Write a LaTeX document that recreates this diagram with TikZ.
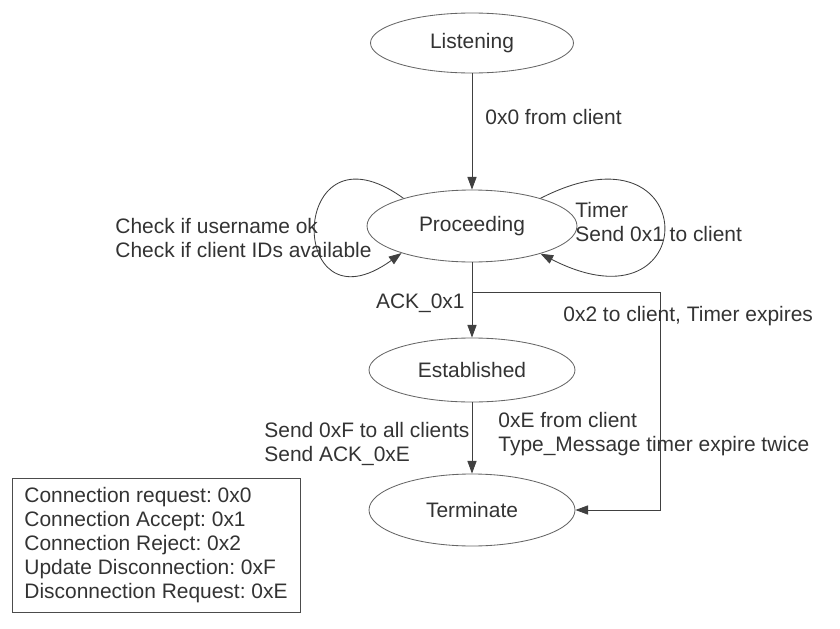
\documentclass[tikz,border=0pt]{standalone}
\usepackage{fontspec}
\setmainfont{Liberation Sans}
\usetikzlibrary{arrows.meta,shapes.geometric}
\frenchspacing

\begin{document}
\begin{tikzpicture}[>={Triangle[length=9pt,width=6.5pt]},line width=.6pt,
    font=\fontsize{14.9pt}{17.07pt}\selectfont,
    state/.style={ellipse,draw=black!60,text=black!80,inner sep=0pt,
                  minimum width=5.15cm,minimum height=1.75cm},
    note/.style={text=black!80,inner sep=0pt,align=left}]
  \useasboundingbox (0,0) rectangle (21,-15.725);
  \coordinate (br) at (11.8,-7.3);
  \coordinate (turn) at (16.5,-12.75);
  \node[state,minimum width=5.075cm,minimum height=1.5cm] (L) at (11.8,-1.075) {Listening};
  \node[state,minimum width=5.25cm,minimum height=1.8cm] (P) at (11.8,-5.65) {Proceeding};
  \node[state,minimum height=1.6cm] (E) at (11.8,-9.25) {Established};
  \node[state,minimum height=1.8cm] (T) at (11.8,-12.75) {Terminate};
  \draw[->,black!75] (L) -- (P);
  \draw[->,black!75] (P) -- (E);
  \draw[->,black!75] (E) -- (T);
  \draw[->,black!75] (br) -| (turn) -- (T);
  \draw[->,black!75] (P.158) .. controls +(-2.9,2.1) and +(-2.9,-2.1) .. (P.201);
  \draw[->,black!75] (P.22) .. controls +(4.1,2.1) and +(4.1,-2.1) .. (P.-22);
  \node[note,anchor=west] (l0) at (12.125,-2.925) {0x0 from client};
  \node[note,anchor=east] (l1) at (11.625,-7.575) {ACK\_0x1};
  \node[note,anchor=west] (l2) at (14.075,-7.9) {0x2 to client, Timer expires};
  \node[note,anchor=west] (lf) at (6.6,-11.09) {Send 0xF to all clients\\Send ACK\_0xE};
  \node[note,anchor=west] (le) at (12.45,-10.85) {0xE from client\\Type\_Message timer expire twice};
  \node[note,anchor=west] (lt) at (14.375,-5.55) {Timer\\Send 0x1 to client};
  \node[note,anchor=west] (lc) at (2.875,-5.95) {Check if username ok\\Check if client IDs available};
  \node[note,draw=black!70,minimum width=7.2cm,minimum height=3.35cm] (key) at (3.9,-13.625)
    {Connection request: 0x0\\Connection Accept: 0x1\\Connection Reject: 0x2\\
     Update Disconnection: 0xF\\Disconnection Request: 0xE};
\end{tikzpicture}
\end{document}
